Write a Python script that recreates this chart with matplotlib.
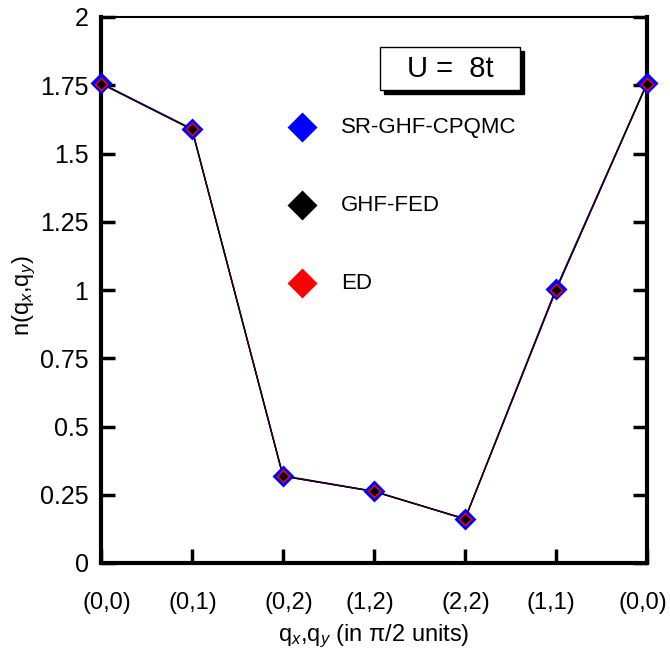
import matplotlib
matplotlib.use("Agg")
import matplotlib.pyplot as plt
from matplotlib.patches import Rectangle
from matplotlib.transforms import ScaledTranslation

plt.rcParams['font.family'] = ['Liberation Sans', 'DejaVu Sans']
plt.rcParams['mathtext.fontset'] = 'custom'
plt.rcParams['mathtext.rm'] = 'Liberation Sans'
plt.rcParams['mathtext.it'] = 'Liberation Sans:italic'

tick_labels = ["(0,0)", "(0,1)", "(0,2)", "(1,2)", "(2,2)", "(1,1)", "(0,0)"]
x_pos = [0, 1, 2, 3, 4, 5, 6]
qmc = [1.758, 1.590, 0.320, 0.263, 0.162, 1.005, 1.758]
fed = [1.756, 1.588, 0.318, 0.262, 0.161, 1.000, 1.756]
ed = [1.756, 1.588, 0.318, 0.262, 0.161, 1.000, 1.756]
series_names = ["SR-GHF-CPQMC", "GHF-FED", "ED"]
series_colors = ["#0000ff", "#000000", "#ff0000"]
y_ticks = [0, 0.25, 0.5, 0.75, 1, 1.25, 1.5, 1.75, 2]
y_tick_labels = ["0", "0.25", "0.5", "0.75", "1", "1.25", "1.5", "1.75", "2"]

fig = plt.figure(figsize=(6.7, 6.56), dpi=100)
ax = fig.add_axes([101/670, 1-563/656, 546/670, 546/656])

ax.plot(x_pos, qmc, '-', color='#0000ff', lw=1.0, zorder=2)
ax.plot(x_pos, fed, '-', color='#000000', lw=1.0, zorder=2)
ax.plot(x_pos, ed, '-', color='#300008', lw=1.0, zorder=2)
ax.plot(x_pos, qmc, 'D', color='#0000ff', ms=10.9, mec='none', zorder=3, clip_on=False)
ax.plot(x_pos, ed, 'D', color='#ff0000', ms=7.6, mec='none', zorder=4, clip_on=False)
ax.plot(x_pos, fed, 'D', color='#000000', ms=5.0, mec='none', zorder=5, clip_on=False)

ax.set_xlim(0, 6)
ax.set_ylim(0, 2)
ax.set_xticks(x_pos)
ax.set_xticklabels(tick_labels, fontsize=17)
ax.set_yticks(y_ticks)
ax.set_yticklabels(y_tick_labels, fontsize=18)

ax.tick_params(axis='y', direction='in', length=10, width=2.5, pad=9,
               left=True, right=True)
ax.tick_params(axis='x', direction='in', length=10, width=2.5, pad=21,
               bottom=True, top=False)

# small horizontal shifts of the x tick labels (pixels)
label_shift_px = [6, 1, 6, -4, 1, -5, -4]
for lab, dx in zip(ax.get_xticklabels(), label_shift_px):
    lab.set_transform(lab.get_transform() + ScaledTranslation(dx / 100, 0, fig.dpi_scale_trans))

for s in ['left', 'right', 'bottom']:
    ax.spines[s].set_linewidth(3.0)
ax.spines['top'].set_linewidth(1.5)

ax.set_xlabel(r"q$_x$,q$_y$ (in π/2 units)", fontsize=17, labelpad=6)
ax.set_ylabel(r"n(q$_x$,q$_y$)", fontsize=17)
ax.yaxis.set_label_coords(-0.115, 0.49)

# legend (manual)
leg_x = 2.21
leg_y = [1.596, 1.31, 1.024]
for name, col, yy in zip(series_names, series_colors, leg_y):
    ax.plot([leg_x], [yy], 'D', color=col, ms=15.5, mec='none', zorder=6)
    ax.text(2.64, yy, name, fontsize=16, va='center', ha='left')

# U = 8t box with shadow
bx0, bx1 = 0.511, 0.767
by0, by1 = 0.866, 0.945
off = 0.0075
ax.add_patch(Rectangle((bx0 + off, by0 - off), bx1 - bx0, by1 - by0,
                       transform=ax.transAxes, facecolor='black',
                       edgecolor='black', lw=1, zorder=7))
ax.add_patch(Rectangle((bx0, by0), bx1 - bx0, by1 - by0,
                       transform=ax.transAxes, facecolor='white',
                       edgecolor='black', lw=1, zorder=8))
ax.text((bx0 + bx1) / 2, (by0 + by1) / 2, "U =  8t", transform=ax.transAxes,
        fontsize=21, ha='center', va='center', zorder=9)

fig.savefig("out.png", dpi=100)
